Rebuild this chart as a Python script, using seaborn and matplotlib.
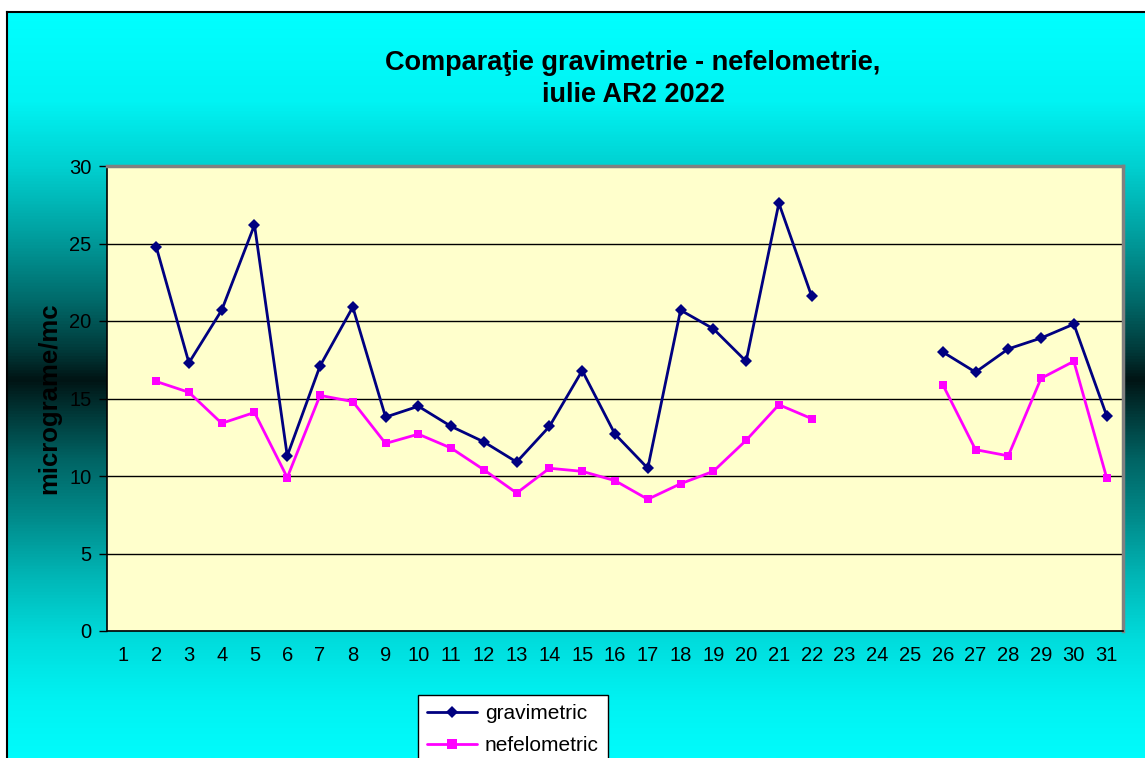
"""Comparatie gravimetrie - nefelometrie, iulie AR2 2022."""

import numpy as np
import pandas as pd
import matplotlib
matplotlib.use('Agg')
import matplotlib.pyplot as plt
from matplotlib.colors import LinearSegmentedColormap
import seaborn as sns

# Data
days = list(range(1, 32))
gravimetric = [np.nan, 24.8, 17.3, 20.7, 26.2, 11.3, 17.1, 20.9, 13.8, 14.5,
               13.2, 12.2, 10.9, 13.2, 16.8, 12.7, 10.5, 20.7, 19.5, 17.4,
               27.6, 21.6, np.nan, np.nan, np.nan, 18.0, 16.7, 18.2, 18.9, 19.8,
               13.9]
nefelometric = [np.nan, 16.1, 15.4, 13.4, 14.1, 9.9, 15.2, 14.8, 12.1, 12.7,
                11.8, 10.4, 8.9, 10.5, 10.3, 9.7, 8.5, 9.5, 10.3, 12.3,
                14.6, 13.7, np.nan, np.nan, np.nan, 15.9, 11.7, 11.3, 16.3, 17.4,
                9.9]
series_names = ['gravimetric', 'nefelometric']
colors = {'gravimetric': '#000080', 'nefelometric': '#FF00FF'}
markers = {'gravimetric': 'D', 'nefelometric': 's'}

# Long format, with a segment id so gaps are not bridged
rows = []
for name, vals in zip(series_names, [gravimetric, nefelometric]):
    seg = 0
    for d, v in zip(days, vals):
        if np.isnan(v):
            seg += 1
            continue
        rows.append({'day': d, 'value': v, 'series': name, 'seg': seg})
df = pd.DataFrame(rows)

sns.set_style("white")
plt.rcParams['font.family'] = ['Liberation Sans', 'DejaVu Sans']
for key in ['text.color', 'axes.labelcolor', 'xtick.color', 'ytick.color']:
    plt.rcParams[key] = 'black'

W, H = 1145, 758
fig = plt.figure(figsize=(W / 100, H / 100), dpi=100)
fig.patch.set_facecolor('white')

# Background gradient (cyan -> dark teal -> cyan), stops given in pixel rows
bg = fig.add_axes([7 / W, 0, 1 - 7 / W, 1 - 12 / H])
pix_stops = [(12, '#00FFFF'), (100, '#00F4F4'), (166, '#00D0D0'),
             (230, '#00A2A2'), (300, '#006A6A'), (350, '#003A3A'),
             (380, '#001414'), (410, '#003434'), (460, '#006464'),
             (520, '#008C8C'), (580, '#00B8B8'), (640, '#00DCDC'),
             (700, '#00F2F2'), (758, '#00FCFC')]
stops = [((y - 12) / (758 - 12), c) for y, c in pix_stops]
cmap = LinearSegmentedColormap.from_list('bgteal', stops)
grad = np.linspace(0, 1, 512).reshape(-1, 1)
bg.imshow(grad, aspect='auto', cmap=cmap, extent=[0, 1, 0, 1], origin='upper')
bg.set_xticks([])
bg.set_yticks([])
for side in ['left', 'top']:
    bg.spines[side].set_color('black')
    bg.spines[side].set_linewidth(1.5)
bg.spines['right'].set_visible(False)
bg.spines['bottom'].set_visible(False)

# Plot area
ax = fig.add_axes([107 / W, 1 - 631 / H, (1123 - 107) / W, (631 - 166) / H])
ax.set_facecolor('#FFFFCC')

sns.lineplot(data=df, x='day', y='value', hue='series', style='series',
             units='seg', estimator=None, palette=colors, markers=markers,
             dashes=False, linewidth=2, markersize=6, markeredgewidth=0,
             ax=ax, legend=False)

ax.set_xlim(0.5, 31.5)
ax.set_ylim(0, 30)
ax.set_yticks(range(0, 31, 5))
ax.yaxis.grid(True, color='black', linewidth=1)
ax.set_axisbelow(True)
ax.set_xticks(days)
ax.set_xticklabels([str(d) for d in days])
ax.set_xticks(np.arange(0.5, 32, 1), minor=True)
ax.tick_params(axis='x', which='major', length=0, labelsize=14.5, pad=11)
ax.tick_params(axis='x', which='minor', length=6, width=1, color='black',
               direction='out')
ax.tick_params(axis='y', length=6, width=1, color='black', labelsize=14.5,
               direction='out', left=True, pad=5)
ax.set_xlabel('')
ax.set_ylabel('micrograme/mc', fontsize=18.5, fontweight='bold', labelpad=6)

for side in ['top', 'right']:
    ax.spines[side].set_color('#808080')
    ax.spines[side].set_linewidth(2.5)
for side in ['left', 'bottom']:
    ax.spines[side].set_color('black')
    ax.spines[side].set_linewidth(1.2)

fig.text(633 / W, 1 - 79 / H, 'Comparaţie gravimetrie - nefelometrie,\niulie AR2 2022',
         ha='center', va='center', fontsize=19.5, fontweight='bold',
         linespacing=1.3)

# Legend
handles = [plt.Line2D([], [], color=colors[n], marker=markers[n], lw=2,
                      markersize=6 if n == 'gravimetric' else 7, markeredgewidth=0)
           for n in series_names]
leg = fig.legend(handles, series_names, loc='upper left',
                 bbox_to_anchor=(418 / W, 1 - 695 / H), borderaxespad=0,
                 prop={'size': 15}, frameon=True, fancybox=False,
                 edgecolor='black', framealpha=1, handlelength=2.4,
                 handletextpad=0.35, borderpad=0.45, labelspacing=0.6)
leg.get_frame().set_linewidth(1)

fig.savefig('out.png', dpi=100)
